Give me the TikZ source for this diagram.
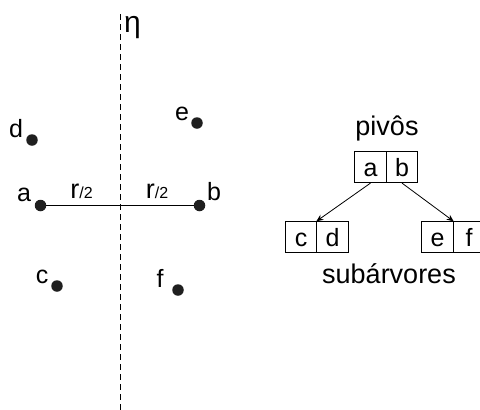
\documentclass[tikz,border=0pt]{standalone}
\usepackage{fontspec}
\setmainfont{Liberation Sans}
\usetikzlibrary{arrows.meta}
\begin{document}
\begin{tikzpicture}[x=1pt,y=-1pt,
  pt/.style={circle,fill=black!88,inner sep=0pt,minimum size=11.5pt},
  lbl/.style={anchor=base,inner sep=0pt,font=\fontsize{25}{25}\selectfont},
  big/.style={anchor=base,inner sep=0pt,font=\fontsize{27}{27}\selectfont},
  cell/.style={draw,line width=0.8pt,minimum width=31.5pt,minimum height=31pt,inner sep=0pt,
    text height=19pt,text depth=0pt,font=\fontsize{25}{25}\selectfont},
  link/.style={line width=0.8pt,-{Stealth[length=7pt,width=6pt]}}]
\useasboundingbox (0,0) rectangle (480,410);

% bisector of the pivots
\coordinate (top) at (120,14);
\coordinate (bot) at (120,410);
\draw[line width=0.8pt,dash pattern=on 6pt off 4pt] (top) -- (bot);
\node[anchor=base west,inner sep=0pt,font=\fontsize{30}{30}\selectfont] (eta) at (124,32) {η};

% points
\node[pt] (a) at (40.5,205.5) {};
\node[pt] (b) at (199.5,205.5) {};
\node[pt] (d) at (32,140) {};
\node[pt] (e) at (197,123) {};
\node[pt] (c) at (57,286) {};
\node[pt] (f) at (178,290) {};

\draw[line width=0.8pt] (a) -- (b);

\node[lbl] (la) at (24,201) {a};
\node[lbl] (lb) at (214,200) {b};
\node[lbl] (ld) at (16,137) {d};
\node[lbl] (le) at (182,120) {e};
\node[lbl] (lc) at (42,283) {c};
\node[lbl] (lf) at (160,287) {f};

\node[big] (r1) at (81.5,198.5) {r{\fontsize{16}{16}\selectfont/2}};
\node[big] (r2) at (157,198.5) {r{\fontsize{16}{16}\selectfont/2}};

% pivot node and subtrees
\node[cell] (pa) at (370.5,167.2) {a};
\node[cell] (pb) at (402,167.2) {b};
\node[cell] (sc) at (301,237.2) {c};
\node[cell] (sd) at (332.5,237.2) {d};
\node[cell] (se) at (437.5,237.2) {e};
\node[cell] (sf) at (469,237.2) {f};

\node[big] (piv) at (387,135) {pivôs};
\node[big] (sub) at (389,283) {subárvores};

\draw[link] (pa.south) -- (sd.north west);
\draw[link] (pb.south) -- (se.north east);
\end{tikzpicture}
\end{document}
